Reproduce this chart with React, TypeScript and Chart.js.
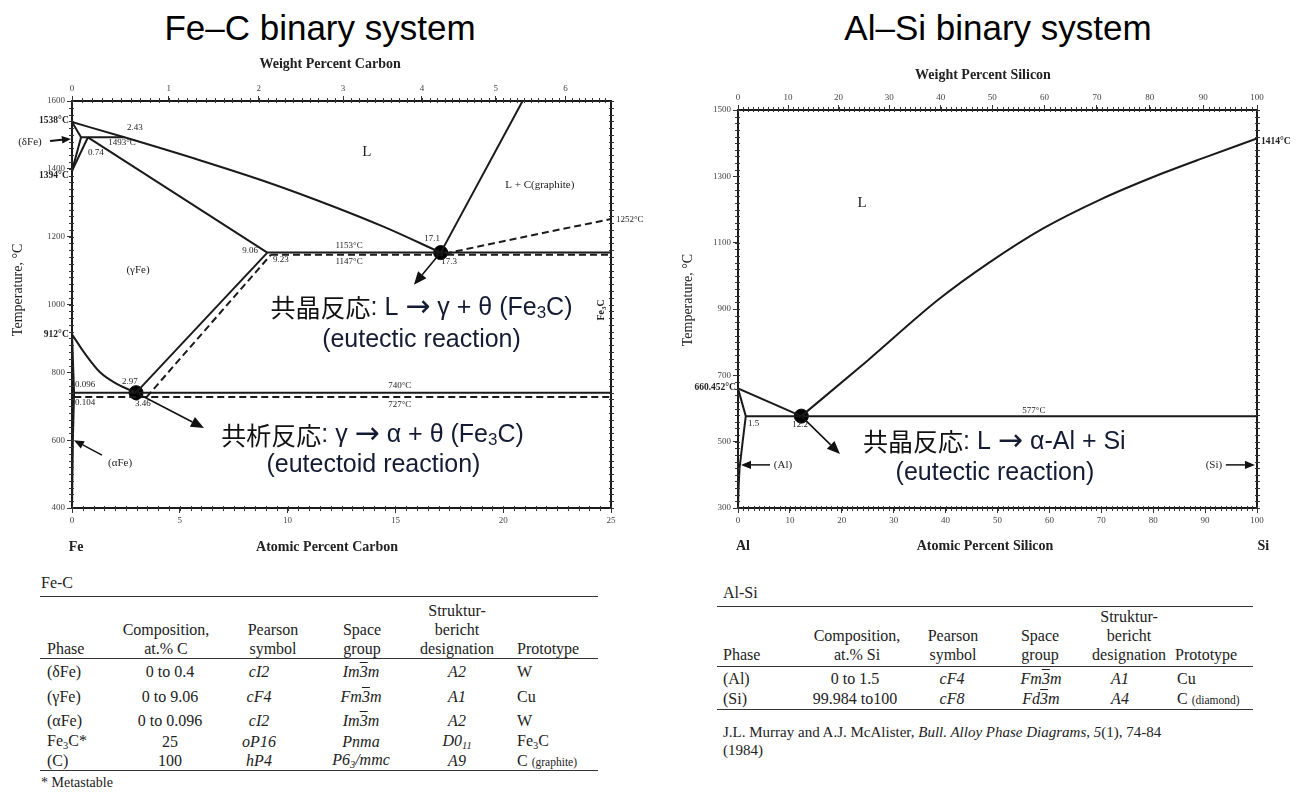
import React, { useEffect, useRef } from 'react';
import { Chart, registerables } from 'chart.js';

Chart.register(...registerables);

type Pt = [number, number];
type Seg = { t: string; f: string; c?: string; dy?: number };
type Label = { x: number; y: number; segs: Seg[]; a?: 'left' | 'right' | 'center'; rot?: number };
type Arrow = { from: Pt; to: Pt; head: number; w: number };
type Line = { pts: Pt[]; dash?: boolean; curve?: boolean; w?: number };

const SERIF = '"Liberation Serif", "DejaVu Serif", serif';
const SANS = '"Liberation Sans", Arial, sans-serif';
const CJKF = '"Noto Sans CJK JP", "Noto Sans CJK SC", sans-serif';
const NAVY = '#141c33';

// ================= Fe–C (x: atomic % C, y: °C) =================
const feAtomicTicks = [0, 5, 10, 15, 20, 25];
const feWeightTicks = [0, 1, 2, 3, 4, 5, 6];
const feTempTicks = [400, 600, 800, 1000, 1200, 1400, 1600];

const feLiquidus: Pt[] = [[0, 1538], [2.43, 1493], [6, 1424], [9, 1362], [12, 1292], [14.5, 1228], [17.1, 1153]];
const feDeltaSolidus: Pt[] = [[0, 1538], [0.42, 1493]];
const feDeltaBoundary: Pt[] = [[0, 1394], [0.42, 1493]];
const feGammaDeltaBoundary: Pt[] = [[0, 1394], [0.74, 1493]];
const fePeritectic: Pt[] = [[0.42, 1493], [2.43, 1493]];
const feGammaSolidus: Pt[] = [[0.74, 1493], [9.06, 1153]];
const feEutecticStable: Pt[] = [[9.06, 1153], [25, 1153]];
const feEutecticMeta: Pt[] = [[9.23, 1147], [25, 1147]];
const feGraphiteLiquidus: Pt[] = [[17.1, 1153], [20.9, 1600]];
const feCementiteLiquidus: Pt[] = [[17.3, 1150], [21.4, 1205], [25, 1252]];
const feAcmStable: Pt[] = [[2.97, 740], [9.06, 1153]];
const feAcmMeta: Pt[] = [[3.46, 727], [9.23, 1147]];
const feA3: Pt[] = [[0, 912], [0.6, 855], [1.3, 800], [2.1, 765], [2.97, 740]];
const feAlphaSolvus: Pt[] = [[0, 912], [0.096, 740], [0.04, 600], [0, 400]];
const feEutectoidStable: Pt[] = [[0.096, 740], [25, 740]];
const feEutectoidMeta: Pt[] = [[0.104, 727], [25, 727]];
const feInvariantPoints: Pt[] = [[17.1, 1153], [2.97, 740]];

// ================= Al–Si (x: atomic % Si, y: °C) =================
const alAtomicTicks = [0, 10, 20, 30, 40, 50, 60, 70, 80, 90, 100];
const alWeightTicks = [0, 10, 20, 30, 40, 50, 60, 70, 80, 90, 100];
const alTempTicks = [300, 500, 700, 900, 1100, 1300, 1500];

const alLiquidusAl: Pt[] = [[0, 660.452], [12.2, 577]];
const alSolidus: Pt[] = [[0, 660.452], [1.5, 577]];
const alSolvus: Pt[] = [[1.5, 577], [0.9, 500], [0.3, 420], [0.1, 360], [0, 300]];
const alEutectic: Pt[] = [[1.5, 577], [100, 577]];
const alLiquidusSi: Pt[] = [[12.2, 577], [25, 745], [38.5, 927], [48.6, 1042], [58.8, 1143], [69.8, 1230], [80, 1298], [89.6, 1355], [100, 1414]];
const alInvariantPoints: Pt[] = [[12.2, 577]];

const M_C = 12.011, M_FE = 55.845, M_AL = 26.982, M_SI = 28.086;
function wtToAt(w: number, mSolute: number, mSolvent: number) {
  if (w <= 0) return 0;
  if (w >= 100) return 100;
  const a = w / mSolute, b = (100 - w) / mSolvent;
  return (100 * a) / (a + b);
}

const sm = `9px ${SERIF}`;
const smB = `bold 9.5px ${SERIF}`;
const md = `11px ${SERIF}`;
const axF = `bold 14px ${SERIF}`;
const axT = `14px ${SERIF}`;
const cjk = `25px ${CJKF}`;
const lat = `25px ${SANS}`;
const arr = `30px "DejaVu Sans", sans-serif`;
const latSub = `17px ${SANS}`;

function txt(x: number, y: number, t: string, f: string, a: 'left' | 'right' | 'center' = 'center'): Label {
  return { x, y, segs: [{ t, f }], a };
}

const feLabels: Label[] = [
  txt(-0.15, 1541, '1538°C', smB, 'right'),
  txt(-1.95, 1479, '(δFe)', md),
  txt(-0.15, 1380, '1394°C', smB, 'right'),
  txt(-0.15, 910, '912°C', smB, 'right'),
  txt(1.11, 1447, '0.74', sm),
  txt(2.92, 1520, '2.43', sm),
  txt(2.32, 1476, '1493°C', sm),
  txt(13.68, 1450, 'L', `15px ${SERIF}`),
  txt(21.7, 1352, 'L + C(graphite)', md),
  txt(25.23, 1249, '1252°C', sm, 'left'),
  txt(3.06, 1102, '(γFe)', md),
  txt(8.26, 1160, '9.06', sm),
  txt(9.69, 1131, '9.23', sm),
  txt(12.85, 1175, '1153°C', sm),
  txt(12.85, 1125, '1147°C', sm),
  txt(16.7, 1193, '17.1', sm),
  txt(17.49, 1125, '17.3', sm),
  txt(15.2, 760, '740°C', sm),
  txt(15.2, 704, '727°C', sm),
  txt(2.69, 774, '2.97', sm),
  txt(3.29, 707, '3.46', sm),
  txt(0.14, 763, '0.096', sm, 'left'),
  txt(0.14, 712, '0.104', sm, 'left'),
  txt(2.23, 533, '(αFe)', md),
  txt(11.97, 1709, 'Weight Percent Carbon', axF),
  txt(11.83, 285, 'Atomic Percent Carbon', axF),
  txt(0.19, 285, 'Fe', axF),
  { x: -2.5, y: 1043, segs: [{ t: 'Temperature, °C', f: axT }], rot: -Math.PI / 2 },
  { x: 24.54, y: 984, segs: [{ t: 'Fe', f: `bold 10px ${SERIF}` }, { t: '3', f: `bold 7px ${SERIF}`, dy: 3 }, { t: 'C', f: `bold 10px ${SERIF}` }], rot: -Math.PI / 2 },
  { x: 16.21, y: 990, segs: [{ t: '共晶反応', f: cjk, c: '#111' }, { t: ': L ', f: lat, c: NAVY }, { t: '→', f: arr, c: NAVY }, { t: ' γ + θ (Fe', f: lat, c: NAVY }, { t: '3', f: latSub, c: NAVY, dy: 5 }, { t: 'C)', f: lat, c: NAVY }] },
  { x: 16.21, y: 895, segs: [{ t: '(eutectic reaction)', f: lat, c: NAVY }] },
  { x: 13.94, y: 615, segs: [{ t: '共析反応', f: cjk, c: '#111' }, { t: ': γ ', f: lat, c: NAVY }, { t: '→', f: arr, c: NAVY }, { t: ' α + θ (Fe', f: lat, c: NAVY }, { t: '3', f: latSub, c: NAVY, dy: 5 }, { t: 'C)', f: lat, c: NAVY }] },
  { x: 13.98, y: 527, segs: [{ t: '(eutectoid reaction)', f: lat, c: NAVY }] },
];

const feArrows: Arrow[] = [
  { from: [17.1, 1153], to: [15.86, 1058], head: 13, w: 1.6 },
  { from: [2.97, 740], to: [6.12, 636], head: 13, w: 1.6 },
  { from: [-1.02, 1482], to: [-0.05, 1488], head: 9, w: 2 },
  { from: [1.39, 556], to: [0.09, 600], head: 10, w: 1.5 },
];

const alLabels: Label[] = [
  txt(23.9, 1220, 'L', `15px ${SERIF}`),
  txt(100.77, 1404, '1414°C', smB, 'left'),
  txt(-0.39, 662, '660.452°C', smB, 'right'),
  txt(1.93, 553, '1.5', sm, 'left'),
  txt(11.95, 550, '12.2', sm),
  txt(57.0, 595, '577°C', sm),
  txt(8.67, 430, '(Al)', md),
  txt(91.7, 430, '(Si)', md),
  txt(47.2, 1605, 'Weight Percent Silicon', axF),
  txt(47.6, 185, 'Atomic Percent Silicon', axF),
  txt(0.96, 185, 'Al', axF),
  txt(101.2, 185, 'Si', axF),
  { x: -9.63, y: 927, segs: [{ t: 'Temperature, °C', f: axT }], rot: -Math.PI / 2 },
  { x: 49.4, y: 499, segs: [{ t: '共晶反応', f: cjk, c: '#111' }, { t: ': L ', f: lat, c: NAVY }, { t: '→', f: arr, c: NAVY }, { t: ' α-Al + Si', f: lat, c: NAVY }] },
  { x: 49.5, y: 405, segs: [{ t: '(eutectic reaction)', f: lat, c: NAVY }] },
];

const alArrows: Arrow[] = [
  { from: [12.2, 577], to: [19.65, 463], head: 13, w: 1.6 },
  { from: [6.17, 430], to: [0.58, 430], head: 10, w: 1.5 },
  { from: [94.0, 430], to: [99.6, 430], head: 10, w: 1.5 },
];

type Cfg = {
  xMin: number; xMax: number; yMin: number; yMax: number;
  atTicks: number[]; wtTicks: number[]; tempTicks: number[];
  toAt: (w: number) => number; wMax: number;
  minorX: number; minorY: number; minorW: number;
  lines: Line[]; dots: Pt[]; labels: Label[]; arrows: Arrow[];
  pad: { left: number; right: number; top: number; bottom: number };
};

const feCfg: Cfg = {
  xMin: 0, xMax: 25, yMin: 400, yMax: 1600,
  atTicks: feAtomicTicks, wtTicks: feWeightTicks, tempTicks: feTempTicks,
  toAt: (w) => wtToAt(w, M_C, M_FE), wMax: 6.6,
  minorX: 0.5, minorY: 20, minorW: 0.1,
  lines: [
    { pts: feLiquidus, curve: true },
    { pts: feDeltaSolidus },
    { pts: feDeltaBoundary },
    { pts: feGammaDeltaBoundary },
    { pts: fePeritectic },
    { pts: feGammaSolidus },
    { pts: feEutecticStable },
    { pts: feEutecticMeta, dash: true },
    { pts: feGraphiteLiquidus },
    { pts: feCementiteLiquidus, dash: true, curve: true },
    { pts: feAcmStable },
    { pts: feAcmMeta, dash: true },
    { pts: feA3, curve: true },
    { pts: feAlphaSolvus },
    { pts: feEutectoidStable },
    { pts: feEutectoidMeta, dash: true },
  ],
  dots: feInvariantPoints, labels: feLabels, arrows: feArrows,
  pad: { left: 36, right: 41, top: 79, bottom: 30 },
};

const alCfg: Cfg = {
  xMin: 0, xMax: 100, yMin: 300, yMax: 1500,
  atTicks: alAtomicTicks, wtTicks: alWeightTicks, tempTicks: alTempTicks,
  toAt: (w) => wtToAt(w, M_SI, M_AL), wMax: 100,
  minorX: 1, minorY: 20, minorW: 1,
  lines: [
    { pts: alLiquidusAl },
    { pts: alSolidus },
    { pts: alSolvus },
    { pts: alEutectic },
    { pts: alLiquidusSi, curve: true },
  ],
  dots: alInvariantPoints, labels: alLabels, arrows: alArrows,
  pad: { left: 42, right: 44, top: 88, bottom: 30 },
};

function phasePlugin(cfg: Cfg) {
  return {
    id: 'phaseDecor',
    afterDatasetsDraw(chart: any) {
      const ctx: CanvasRenderingContext2D = chart.ctx;
      const xs = chart.scales.x, ys = chart.scales.y;
      const area = chart.chartArea;
      const px = (v: number) => xs.getPixelForValue(v);
      const py = (v: number) => ys.getPixelForValue(v);
      ctx.save();
      ctx.strokeStyle = '#333';
      ctx.lineWidth = 1;
      ctx.beginPath();
      const ny = Math.round((cfg.yMax - cfg.yMin) / cfg.minorY);
      for (let i = 0; i <= ny; i++) {
        const y = Math.round(py(cfg.yMin + i * cfg.minorY)) + 0.5;
        ctx.moveTo(area.left - 3, y); ctx.lineTo(area.left + 2, y);
        ctx.moveTo(area.right - 2, y); ctx.lineTo(area.right + 3, y);
      }
      const nx = Math.round((cfg.xMax - cfg.xMin) / cfg.minorX);
      for (let i = 0; i <= nx; i++) {
        const x = Math.round(px(cfg.xMin + i * cfg.minorX)) + 0.5;
        ctx.moveTo(x, area.bottom - 2); ctx.lineTo(x, area.bottom + 3);
      }
      const nw = Math.round(cfg.wMax / cfg.minorW);
      for (let i = 0; i <= nw; i++) {
        const x = Math.round(px(cfg.toAt(i * cfg.minorW))) + 0.5;
        ctx.moveTo(x, area.top - 3); ctx.lineTo(x, area.top + 2);
      }
      ctx.stroke();
      for (const a of cfg.arrows) {
        const x1 = px(a.from[0]), y1 = py(a.from[1]), x2 = px(a.to[0]), y2 = py(a.to[1]);
        const ang = Math.atan2(y2 - y1, x2 - x1);
        const h = a.head, hw = h * 0.42;
        const bx = x2 - h * Math.cos(ang), by = y2 - h * Math.sin(ang);
        ctx.strokeStyle = '#111';
        ctx.lineWidth = a.w;
        ctx.beginPath(); ctx.moveTo(x1, y1); ctx.lineTo(bx, by); ctx.stroke();
        ctx.fillStyle = '#111';
        ctx.beginPath();
        ctx.moveTo(x2, y2);
        ctx.lineTo(bx - hw * Math.sin(ang), by + hw * Math.cos(ang));
        ctx.lineTo(bx + hw * Math.sin(ang), by - hw * Math.cos(ang));
        ctx.closePath(); ctx.fill();
      }
      ctx.textBaseline = 'middle';
      ctx.textAlign = 'left';
      for (const L of cfg.labels) {
        const x = px(L.x), y = py(L.y);
        ctx.save();
        ctx.translate(x, y);
        if (L.rot) ctx.rotate(L.rot);
        let total = 0;
        const ws = L.segs.map((s) => { ctx.font = s.f; const w = ctx.measureText(s.t).width; total += w; return w; });
        const al = L.a || 'center';
        let cx = al === 'center' ? -total / 2 : al === 'right' ? -total : 0;
        L.segs.forEach((s, i) => {
          ctx.font = s.f;
          ctx.fillStyle = s.c || '#222';
          ctx.fillText(s.t, cx, s.dy || 0);
          cx += ws[i];
        });
        ctx.restore();
      }
      ctx.restore();
    },
  };
}

function buildConfig(cfg: Cfg): any {
  const tickFont = { family: 'Liberation Serif', size: 9 };
  const grid = { display: true, drawOnChartArea: false, drawTicks: true, tickLength: 5, color: '#333', lineWidth: 1 };
  const border = { display: true, color: '#1a1a1a', width: 2 };
  const plain = (v: any) => String(v);
  const datasets: any[] = cfg.lines.map((l) => ({
    type: 'line',
    data: l.pts.map(([x, y]) => ({ x, y })),
    showLine: true,
    borderColor: '#1a1a1a',
    borderWidth: l.w ?? 2,
    borderDash: l.dash ? [7, 4] : [],
    pointRadius: 0,
    fill: false,
    tension: 0,
    cubicInterpolationMode: l.curve ? 'monotone' : 'default',
    xAxisID: 'x',
    yAxisID: 'y',
  }));
  datasets.push({
    type: 'scatter',
    data: cfg.dots.map(([x, y]) => ({ x, y })),
    pointRadius: 7,
    pointBackgroundColor: '#000',
    pointBorderColor: '#000',
    showLine: false,
    xAxisID: 'x',
    yAxisID: 'y',
  });
  return {
    type: 'scatter',
    data: { datasets },
    options: {
      animation: false,
      responsive: false,
      devicePixelRatio: 1,
      events: [],
      layout: { padding: cfg.pad },
      plugins: { legend: { display: false }, tooltip: { enabled: false }, title: { display: false } },
      scales: {
        x: {
          type: 'linear', position: 'bottom', min: cfg.xMin, max: cfg.xMax,
          afterBuildTicks: (s: any) => { s.ticks = cfg.atTicks.map((v) => ({ value: v })); },
          afterFit: (s: any) => { s.height = 22; },
          ticks: { font: tickFont, color: '#444', padding: 2, maxRotation: 0, autoSkip: false, callback: plain },
          grid, border,
        },
        xw: {
          type: 'linear', axis: 'x', position: 'top', min: cfg.xMin, max: cfg.xMax,
          afterBuildTicks: (s: any) => { s.ticks = cfg.wtTicks.map((w) => ({ value: cfg.toAt(w) })); },
          afterFit: (s: any) => { s.height = 22; },
          ticks: { font: tickFont, color: '#444', padding: 2, maxRotation: 0, autoSkip: false, callback: (_v: any, i: number) => String(cfg.wtTicks[i]) },
          grid, border,
        },
        y: {
          type: 'linear', position: 'left', min: cfg.yMin, max: cfg.yMax,
          afterBuildTicks: (s: any) => { s.ticks = cfg.tempTicks.map((v) => ({ value: v })); },
          afterFit: (s: any) => { s.width = 36; },
          ticks: { font: tickFont, color: '#444', padding: 2, autoSkip: false, callback: plain },
          grid, border,
        },
        yr: {
          type: 'linear', axis: 'y', position: 'right', min: cfg.yMin, max: cfg.yMax,
          afterFit: (s: any) => { s.width = 8; },
          ticks: { display: false },
          grid: { display: false },
          border,
        },
      },
    },
    plugins: [phasePlugin(cfg)],
  };
}

function PhaseChart({ cfg, left, width, height }: { cfg: Cfg; left: number; width: number; height: number }) {
  const ref = useRef<HTMLCanvasElement>(null);
  useEffect(() => {
    const chart = new Chart(ref.current as HTMLCanvasElement, buildConfig(cfg));
    return () => chart.destroy();
  }, [cfg]);
  return (
    <canvas ref={ref} width={width} height={height}
      style={{ position: 'absolute', left, top: 0, width, height }} />
  );
}

// ================= Tables =================
const feTableHeaders = [
  ['Phase'], ['Composition,', 'at.% C'], ['Pearson', 'symbol'], ['Space', 'group'], ['Struktur-', 'bericht', 'designation'], ['Prototype'],
];
const feTableRows = [
  ['(δFe)', '0 to 0.4', 'cI2', 'Im{o:3}m', 'A2', 'W'],
  ['(γFe)', '0 to 9.06', 'cF4', 'Fm{o:3}m', 'A1', 'Cu'],
  ['(αFe)', '0 to 0.096', 'cI2', 'Im{o:3}m', 'A2', 'W'],
  ['Fe{s:3}C*', '25', 'oP16', 'Pnma', 'D0{s:11}', 'Fe{s:3}C'],
  ['(C)', '100', 'hP4', 'P6{s:3}/mmc', 'A9', 'C {g:(graphite)}'],
];
const alTableHeaders = [
  ['Phase'], ['Composition,', 'at.% Si'], ['Pearson', 'symbol'], ['Space', 'group'], ['Struktur-', 'bericht', 'designation'], ['Prototype'],
];
const alTableRows = [
  ['(Al)', '0 to 1.5', 'cF4', 'Fm{o:3}m', 'A1', 'Cu'],
  ['(Si)', '99.984 to100', 'cF8', 'Fd{o:3}m', 'A4', 'C {g:(diamond)}'],
];

type TableLayout = {
  title: string; titleX: number; titleY: number;
  x0: number; x1: number; rules: number[];
  headX: number[]; headA: string[]; headBottom: number;
  colX: number[]; colA: string[]; rowY: number[];
};

const feTableLayout: TableLayout = {
  title: 'Fe-C', titleX: 41, titleY: 583, x0: 40, x1: 598, rules: [596, 658, 770],
  headX: [47, 166, 273, 362, 457, 517], headA: ['l', 'c', 'c', 'c', 'c', 'l'], headBottom: 649,
  colX: [47, 170, 259, 361, 457, 517], colA: ['l', 'c', 'c', 'c', 'c', 'l'], rowY: [672, 697, 721, 742, 761],
};
const alTableLayout: TableLayout = {
  title: 'Al-Si', titleX: 723, titleY: 593, x0: 717, x1: 1253, rules: [606, 666, 709],
  headX: [723, 857, 953, 1040, 1129, 1175], headA: ['l', 'c', 'c', 'c', 'c', 'l'], headBottom: 655,
  colX: [723, 855, 952, 1041, 1120, 1177], colA: ['l', 'c', 'c', 'c', 'c', 'l'], rowY: [679, 699],
};

function rich(s: string) {
  const parts = s.split(/(\{[osg]:[^}]*\})/);
  return parts.map((p, i) => {
    const m = p.match(/^\{([osg]):([^}]*)\}$/);
    if (!m) return <React.Fragment key={i}>{p}</React.Fragment>;
    if (m[1] === 'o') return <span key={i} style={{ textDecoration: 'overline' }}>{m[2]}</span>;
    if (m[1] === 's') return <sub key={i} style={{ fontSize: '0.65em', verticalAlign: '-0.25em' }}>{m[2]}</sub>;
    return <span key={i} style={{ fontSize: '0.72em', fontStyle: 'normal' }}>{m[2]}</span>;
  });
}

function T({ x, y, a = 'c', children, style }: { x: number; y: number; a?: string; children: any; style?: any }) {
  const tr = a === 'c' ? 'translate(-50%,-50%)' : a === 'r' ? 'translate(-100%,-50%)' : 'translate(0,-50%)';
  return (
    <div style={{ position: 'absolute', left: x, top: y, transform: tr, whiteSpace: 'nowrap', lineHeight: 1, ...style }}>
      {children}
    </div>
  );
}

function DataTable({ L, headers, rows }: { L: TableLayout; headers: string[][]; rows: string[][] }) {
  const italicCols = [2, 3, 4];
  return (
    <>
      <T x={L.titleX} y={L.titleY} a="l">{L.title}</T>
      {L.rules.map((y, i) => (
        <div key={'r' + i} style={{ position: 'absolute', left: L.x0, top: y, width: L.x1 - L.x0, height: 0, borderTop: '1.5px solid #333' }} />
      ))}
      {headers.map((lines, c) =>
        lines.map((t, k) => (
          <T key={'h' + c + '_' + k} x={L.headX[c]} a={L.headA[c]} y={L.headBottom - (lines.length - 1 - k) * 19}>{t}</T>
        ))
      )}
      {rows.map((r, ri) =>
        r.map((cell, c) => (
          <T key={'c' + ri + '_' + c} x={L.colX[c]} a={L.colA[c]} y={L.rowY[ri]}
            style={italicCols.includes(c) ? { fontStyle: 'italic' } : undefined}>
            {rich(cell)}
          </T>
        ))
      )}
    </>
  );
}

export default function App() {
  return (
    <div style={{ position: 'absolute', left: 0, top: 0, width: 1309, height: 792, background: '#fff', overflow: 'hidden', fontFamily: SERIF, fontSize: 16, color: '#222' }}>
      <div style={{ position: 'absolute', left: 0, top: 10, width: 640, textAlign: 'center', font: `35px ${SANS}`, lineHeight: '36px', color: '#000' }}>Fe–C binary system</div>
      <div style={{ position: 'absolute', left: 678, top: 10, width: 640, textAlign: 'center', font: `35px ${SANS}`, lineHeight: '36px', color: '#000' }}>Al–Si binary system</div>
      <PhaseChart cfg={feCfg} left={0} width={660} height={560} />
      <PhaseChart cfg={alCfg} left={660} width={649} height={560} />
      <DataTable L={feTableLayout} headers={feTableHeaders} rows={feTableRows} />
      <T x={41} y={783} a="l" style={{ fontSize: 14 }}>* Metastable</T>
      <DataTable L={alTableLayout} headers={alTableHeaders} rows={alTableRows} />
      <T x={723} y={732} a="l" style={{ fontSize: 15 }}>
        J.L. Murray and A.J. McAlister, <i>Bull. Alloy Phase Diagrams</i>, <i>5</i>(1), 74-84
      </T>
      <T x={723} y={750} a="l" style={{ fontSize: 15 }}>(1984)</T>
    </div>
  );
}
